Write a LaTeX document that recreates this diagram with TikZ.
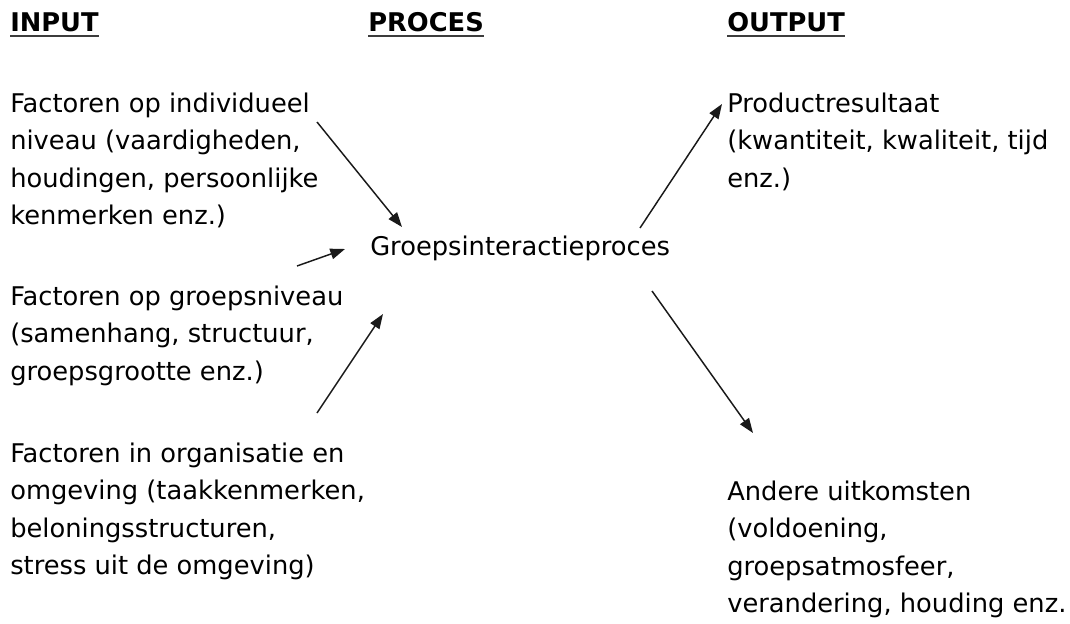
\documentclass[tikz,border=0pt]{standalone}
\usepackage{fontspec}
\setmainfont{DejaVu Sans}
\usepackage{tikz}
\usetikzlibrary{arrows.meta, calc}
\definecolor{mydark}{RGB}{25,25,25}
\newcommand{\bodyfont}{\fontsize{19.3pt}{28.1pt}\selectfont}
\tikzset{
  hdr/.style={anchor=base west, inner sep=0pt, font=\bodyfont\bfseries},
  uline/.style={draw=mydark!85, line width=1.6pt},
  txt/.style={anchor=north west, inner sep=0pt, align=left, font=\bodyfont},
  arrow/.style={-{Triangle[length=11pt, width=8pt]}, line width=1.1pt, color=mydark}
}
\begin{document}
\begin{tikzpicture}[x=0.75pt, y=-0.75pt]
  \useasboundingbox (0,0) rectangle (1070,624);

  % column headers
  \node[hdr] (hin)   at (10,32)  {INPUT};
  \node[hdr] (hproc) at (368,32) {PROCES};
  \node[hdr] (hout)  at (727,32) {OUTPUT};
  \foreach \h in {hin, hproc, hout}
    \draw[uline] ([yshift=-3.2pt]\h.base west) -- ([yshift=-3.2pt]\h.base east);

  % input factors
  \node[txt] (in1) at (10,92.5)  {Factoren op individueel\\niveau (vaardigheden,\\houdingen, persoonlijke\\kenmerken enz.)};
  \node[txt] (in2) at (10,285.5) {Factoren op groepsniveau\\(samenhang, structuur,\\groepsgrootte enz.)};
  \node[txt] (in3) at (10,442.5) {Factoren in organisatie en\\omgeving (taakkenmerken,\\beloningsstructuren,\\stress uit de omgeving)};

  % process
  \node[anchor=base west, inner sep=0pt, font=\bodyfont] (proc) at (370,255) {Groepsinteractieproces};

  % outcomes
  \node[txt] (out1) at (727,92.5)  {Productresultaat\\(kwantiteit, kwaliteit, tijd\\enz.)};
  \node[txt] (out2) at (727,480.5) {Andere uitkomsten\\(voldoening,\\groepsatmosfeer,\\verandering, houding enz.};

  % arrows
  \draw[arrow] ($(in1.north west)+(307,29.5)$) -- ($(proc.base west)+(32,-28)$);
  \draw[arrow] ($(in2.north west)+(287,-19.5)$) -- ($(proc.base west)+(-25,-6)$);
  \draw[arrow] ($(in3.north west)+(307,-29.5)$) -- ($(proc.base west)+(13,59)$);
  \draw[arrow] ($(proc.base west)+(270,-27)$) -- ($(out1.north west)+(-5,11.5)$);
  \draw[arrow] ($(proc.base west)+(282,36)$) -- ($(out2.north west)+(26,-47.5)$);
\end{tikzpicture}
\end{document}
